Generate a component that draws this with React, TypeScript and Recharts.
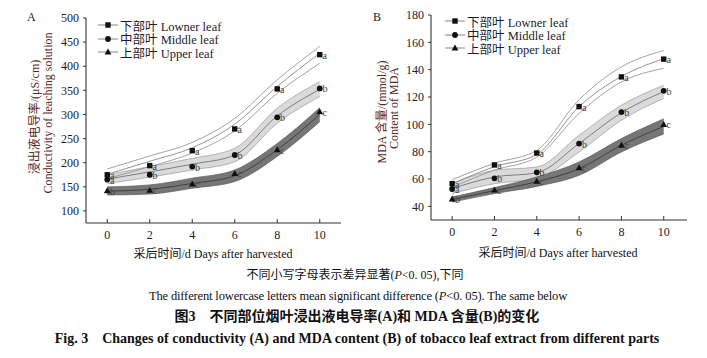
import React from "react";
import { Area, ComposedChart, Line, XAxis, YAxis } from "recharts";

const FONT = "'Liberation Serif', 'Noto Sans CJK SC', serif";
const TEXT = "#1c1c2c";

const DAYS = [0, 2, 4, 6, 8, 10];
const DAY_TICKS = [0, 2, 4, 6, 8, 10];

// significance letters per day
const LETTERS_LOWNER = ["a", "a", "a", "a", "a", "a"];
const LETTERS_MIDDLE = ["a", "b", "b", "b", "b", "b"];
const LETTERS_UPPER = ["b", "c", "c", "c", "c", "c"];

// A: conductivity (μS/cm)
const COND_TICKS = [100, 150, 200, 250, 300, 350, 400, 450, 500];
const COND_LOWNER = [175, 194, 225, 270, 353, 424];
const COND_MIDDLE = [165, 175, 192, 216, 294, 354];
const COND_UPPER = [142, 143, 156, 178, 227, 306];
const COND_LOWNER_FIT = [176, 203, 231, 280, 358, 427];
const COND_LOWNER_HIGH = [187, 214, 242, 292, 372, 441];
const COND_LOWNER_LOW = [167, 192, 220, 266, 344, 406];
const COND_MIDDLE_FIT = [166, 181, 197, 216, 297, 352];
const COND_MIDDLE_HIGH = [175, 192, 209, 230, 313, 368];
const COND_MIDDLE_LOW = [157, 170, 185, 202, 282, 337];
const COND_UPPER_FIT = [141, 145, 157, 173, 227, 300];
const COND_UPPER_HIGH = [150, 154, 168, 185, 240, 314];
const COND_UPPER_LOW = [133, 135, 147, 161, 213, 285];

// B: MDA content (mmol/g)
const MDA_TICKS = [40, 60, 80, 100, 120, 140, 160, 180];
const MDA_LOWNER = [56.6, 70.3, 79, 113, 134.7, 147.7];
const MDA_MIDDLE = [52.7, 60.5, 64.9, 85.9, 109, 124.5];
const MDA_UPPER = [45.4, 52, 58.5, 68.3, 84.7, 100];
const MDA_LOWNER_FIT = [56.5, 69, 78, 113, 135, 148];
const MDA_LOWNER_HIGH = [59.5, 71.5, 81, 118, 142, 154];
const MDA_LOWNER_LOW = [54, 66.5, 76, 108, 131, 141];
const MDA_MIDDLE_FIT = [53, 61.5, 64.5, 86, 108.5, 124];
const MDA_MIDDLE_HIGH = [56.6, 66.4, 68.8, 92, 114, 128.6];
const MDA_MIDDLE_LOW = [49.3, 56.6, 60.3, 79.8, 103, 119];
const MDA_UPPER_FIT = [45, 51.5, 58, 67.5, 84.7, 98.5];
const MDA_UPPER_HIGH = [46.8, 53.7, 61.5, 72.5, 89.6, 104];
const MDA_UPPER_LOW = [43.1, 49.3, 54.6, 62.7, 79.8, 93];

function buildRows(
  lowner: number[], middle: number[], upper: number[],
  lFit: number[], lHigh: number[], lLow: number[],
  mFit: number[], mHigh: number[], mLow: number[],
  uFit: number[], uHigh: number[], uLow: number[]
) {
  return DAYS.map((d, i) => ({
    x: d,
    lownerPt: lowner[i],
    middlePt: middle[i],
    upperPt: upper[i],
    lownerFit: lFit[i],
    lownerHigh: lHigh[i],
    lownerLow: lLow[i],
    middleFit: mFit[i],
    middleBand: [mLow[i], mHigh[i]],
    upperFit: uFit[i],
    upperBand: [uLow[i], uHigh[i]],
  }));
}

const condRows = buildRows(
  COND_LOWNER, COND_MIDDLE, COND_UPPER,
  COND_LOWNER_FIT, COND_LOWNER_HIGH, COND_LOWNER_LOW,
  COND_MIDDLE_FIT, COND_MIDDLE_HIGH, COND_MIDDLE_LOW,
  COND_UPPER_FIT, COND_UPPER_HIGH, COND_UPPER_LOW
);

const mdaRows = buildRows(
  MDA_LOWNER, MDA_MIDDLE, MDA_UPPER,
  MDA_LOWNER_FIT, MDA_LOWNER_HIGH, MDA_LOWNER_LOW,
  MDA_MIDDLE_FIT, MDA_MIDDLE_HIGH, MDA_MIDDLE_LOW,
  MDA_UPPER_FIT, MDA_UPPER_HIGH, MDA_UPPER_LOW
);

type Shape = "square" | "circle" | "triangle";

function Marker({ shape, cx, cy }: { shape: Shape; cx: number; cy: number }) {
  if (shape === "square") {
    return <rect x={cx - 2.7} y={cy - 2.7} width={5.4} height={5.4} fill="#111" />;
  }
  if (shape === "circle") {
    return <circle cx={cx} cy={cy} r={2.9} fill="#111" />;
  }
  return (
    <polygon
      points={`${cx},${cy - 3.4} ${cx + 3.4},${cy + 2.6} ${cx - 3.4},${cy + 2.6}`}
      fill="#111"
    />
  );
}

function makeDot(shape: Shape, letters: string[]) {
  return (props: any) => {
    const { cx, cy, index } = props;
    if (cx == null || cy == null) return <g key={`d-${shape}-${index}`} />;
    return (
      <g key={`d-${shape}-${index}`}>
        <Marker shape={shape} cx={cx} cy={cy} />
        <text
          x={cx + 2.8}
          y={cy + 4}
          fontSize={10}
          fontFamily={FONT}
          fill="#444"
        >
          {letters[index]}
        </text>
      </g>
    );
  };
}

const tickStyle = { fill: TEXT, fontSize: 12, fontFamily: FONT };

function PanelChart({
  rows,
  yDomain,
  yTicks,
  xDomain,
  margin,
  width,
  height,
}: {
  rows: any[];
  yDomain: [number, number];
  yTicks: number[];
  xDomain: [number, number];
  margin: { top: number; right: number; bottom: number; left: number };
  width: number;
  height: number;
}) {
  return (
    <ComposedChart width={width} height={height} data={rows} margin={margin}>
      <XAxis
        type="number"
        dataKey="x"
        domain={xDomain}
        ticks={DAY_TICKS}
        allowDataOverflow
        height={30}
        tickSize={-4}
        tickMargin={11}
        tick={tickStyle}
        stroke="#333"
        axisLine={{ stroke: "#333", strokeWidth: 1.1 }}
        tickLine={{ stroke: "#333" }}
      />
      <YAxis
        type="number"
        domain={yDomain}
        ticks={yTicks}
        allowDataOverflow
        width={40}
        tickSize={3}
        tickMargin={4}
        tick={tickStyle}
        axisLine={{ stroke: "#333", strokeWidth: 1.1 }}
        tickLine={{ stroke: "#333" }}
      />
      <Area
        type="monotone"
        dataKey="middleBand"
        fill="#dadada"
        fillOpacity={1}
        stroke="#9a9a9a"
        strokeWidth={0.7}
        isAnimationActive={false}
      />
      <Area
        type="monotone"
        dataKey="upperBand"
        fill="#767676"
        fillOpacity={1}
        stroke="#5a5a5a"
        strokeWidth={0.7}
        isAnimationActive={false}
      />
      <Line type="monotone" dataKey="lownerHigh" stroke="#8c8c8c" strokeWidth={0.8} dot={false} isAnimationActive={false} />
      <Line type="monotone" dataKey="lownerFit" stroke="#777" strokeWidth={0.8} dot={false} isAnimationActive={false} />
      <Line type="monotone" dataKey="lownerLow" stroke="#8c8c8c" strokeWidth={0.8} dot={false} isAnimationActive={false} />
      <Line type="monotone" dataKey="middleFit" stroke="#666" strokeWidth={0.8} dot={false} isAnimationActive={false} />
      <Line type="monotone" dataKey="upperFit" stroke="#333" strokeWidth={0.8} dot={false} isAnimationActive={false} />
      <Line dataKey="lownerPt" stroke="none" dot={makeDot("square", LETTERS_LOWNER)} isAnimationActive={false} />
      <Line dataKey="middlePt" stroke="none" dot={makeDot("circle", LETTERS_MIDDLE)} isAnimationActive={false} />
      <Line dataKey="upperPt" stroke="none" dot={makeDot("triangle", LETTERS_UPPER)} isAnimationActive={false} />
    </ComposedChart>
  );
}

const LEGEND_ITEMS: { shape: Shape; label: string }[] = [
  { shape: "square", label: "下部叶 Lowner leaf" },
  { shape: "circle", label: "中部叶 Middle leaf" },
  { shape: "triangle", label: "上部叶 Upper leaf" },
];

function LegendBox({ left, top, gap }: { left: number; top: number; gap: number }) {
  return (
    <div style={{ position: "absolute", left, top }}>
      {LEGEND_ITEMS.map((item, i) => (
        <div
          key={item.label}
          style={{
            position: "absolute",
            left: 0,
            top: i * gap - 8,
            height: 16,
            display: "flex",
            alignItems: "center",
            whiteSpace: "nowrap",
          }}
        >
          <svg width={22} height={16} style={{ display: "block" }}>
            <line x1={0} x2={20} y1={8} y2={8} stroke="#666" strokeWidth={0.8} />
            <Marker shape={item.shape} cx={10} cy={8} />
          </svg>
          <span style={{ fontSize: 12.5, fontFamily: FONT, color: TEXT }}>{item.label}</span>
        </div>
      ))}
    </div>
  );
}

function VLabel({ x, y, text, size }: { x: number; y: number; text: string; size: number }) {
  return (
    <div
      style={{
        position: "absolute",
        left: x,
        top: y,
        transform: "translate(-50%, -50%) rotate(-90deg)",
        whiteSpace: "nowrap",
        fontSize: size,
        fontFamily: FONT,
        color: "#5a2a1c",
        lineHeight: 1,
      }}
    >
      {text}
    </div>
  );
}

function CenterText({
  y, text, size, bold, cx, spacing,
}: { y: number; text: React.ReactNode; size: number; bold?: boolean; cx: number; spacing?: number }) {
  return (
    <div
      style={{
        position: "absolute",
        left: cx,
        top: y,
        transform: "translate(-50%, -50%)",
        whiteSpace: "nowrap",
        fontSize: size,
        fontFamily: FONT,
        fontWeight: bold ? 700 : 400,
        letterSpacing: spacing ?? 0,
        color: "#111",
        lineHeight: 1,
      }}
    >
      {text}
    </div>
  );
}

export default function App() {
  return (
    <div
      style={{
        position: "absolute",
        left: 0,
        top: 0,
        width: 707,
        height: 358,
        background: "#fff",
        overflow: "hidden",
      }}
    >
      <div style={{ position: "absolute", left: 0, top: 0 }}>
        <PanelChart
          rows={condRows}
          yDomain={[75, 500]}
          yTicks={COND_TICKS}
          xDomain={[-1, 11]}
          width={360}
          height={260}
          margin={{ top: 18, right: 19, bottom: 7, left: 46 }}
        />
      </div>
      <div style={{ position: "absolute", left: 350, top: 0 }}>
        <PanelChart
          rows={mdaRows}
          yDomain={[30, 180]}
          yTicks={MDA_TICKS}
          xDomain={[-1, 11.1]}
          width={357}
          height={260}
          margin={{ top: 15, right: 20, bottom: 10, left: 41 }}
        />
      </div>

      <div style={{ position: "absolute", left: 27, top: 10, fontSize: 12, fontFamily: FONT, color: TEXT }}>A</div>
      <div style={{ position: "absolute", left: 373, top: 10, fontSize: 12, fontFamily: FONT, color: TEXT }}>B</div>

      <LegendBox left={98} top={25} gap={13.5} />
      <LegendBox left={445} top={21} gap={13.5} />

      <VLabel x={35} y={117} text="浸出液电导率/(μS/cm)" size={12} />
      <VLabel x={48} y={113} text="Conductivity of leaching solution" size={12} />
      <VLabel x={382} y={112} text="MDA 含量/(mmol/g)" size={12} />
      <VLabel x={394} y={108} text="Content of MDA" size={12} />

      <CenterText cx={213} y={254} size={12} text="采后时间/d Days after harvested" />
      <CenterText cx={558} y={253} size={12} text="采后时间/d Days after harvested" />

      <CenterText
        cx={355}
        y={275}
        size={12}
        text={<>不同小写字母表示差异显著(<i>P</i>&lt;0. 05),下同</>}
      />
      <CenterText
        cx={358}
        y={296}
        size={12.5}
        spacing={-0.15}
        text={<>The different lowercase letters mean significant difference (<i>P</i>&lt;0. 05). The same below</>}
      />
      <CenterText cx={357} y={317} size={14} bold text="图3　不同部位烟叶浸出液电导率(A)和 MDA 含量(B)的变化" />
      <CenterText
        cx={357}
        y={339}
        size={14}
        bold
        text="Fig. 3　Changes of conductivity (A) and MDA content (B) of tobacco leaf extract from different parts"
      />
    </div>
  );
}
